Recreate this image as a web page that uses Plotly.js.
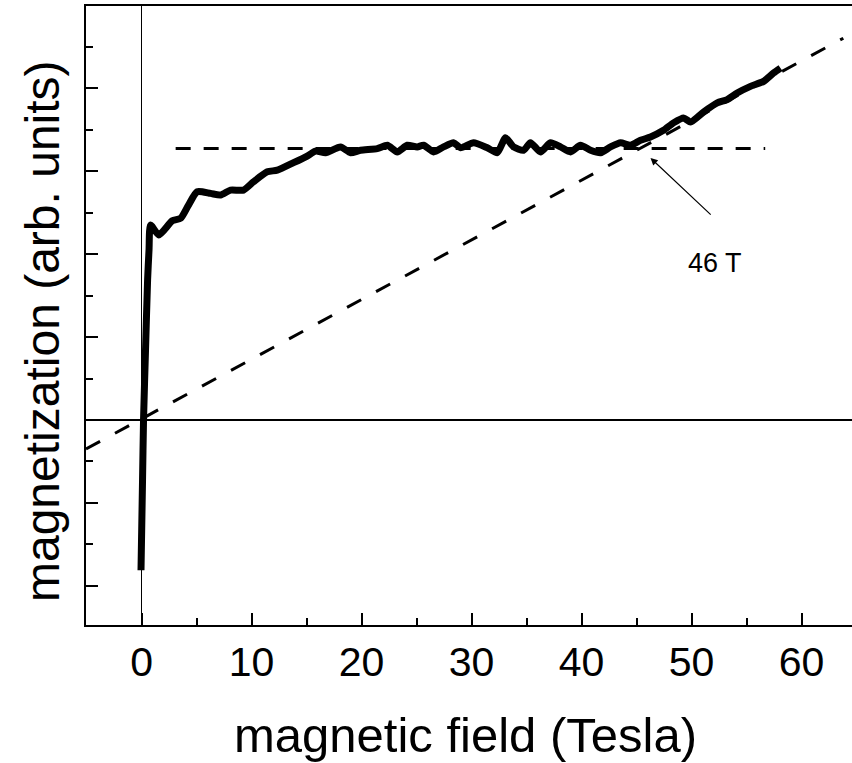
<!DOCTYPE html>
<html>
<head>
<meta charset="utf-8">
<script src="https://cdn.plot.ly/plotly-3.0.1.min.js"></script>
<style>html,body{margin:0;padding:0;background:#fff;}#chart{width:852px;height:763px;}</style>
</head>
<body>
<div id="chart"></div>
<script>
// magnetization curve (field in Tesla, magnetization in arb. units)
var fieldT = [-0.05,0.09,0.18,0.36,0.55,0.68,0.82,1.57,2.79,3.55,4.27,5.06,6.27,7.18,8.09,9.27,10.18,11.43,12.34,13.82,15.06,15.82,16.73,18.09,19.0,19.91,21.43,22.34,23.25,24.15,25.06,25.64,26.55,27.45,28.36,29.0,30.18,31.43,32.34,33.09,33.82,34.73,35.36,36.27,37.18,38.09,39.0,39.91,40.82,41.73,42.64,43.55,44.45,45.36,46.27,47.45,48.36,49.27,49.91,51.09,52.34,53.25,54.15,55.36,56.55,57.45,58.09];
var magn = [-1.81,-0.72,0.0,0.84,1.69,2.05,2.35,2.23,2.40,2.43,2.59,2.75,2.73,2.71,2.77,2.77,2.87,2.99,3.01,3.10,3.18,3.24,3.22,3.29,3.22,3.25,3.27,3.31,3.23,3.31,3.29,3.31,3.23,3.29,3.34,3.28,3.34,3.28,3.22,3.40,3.29,3.25,3.34,3.23,3.34,3.29,3.23,3.31,3.25,3.22,3.29,3.34,3.31,3.37,3.41,3.49,3.58,3.64,3.59,3.71,3.82,3.86,3.94,4.02,4.08,4.18,4.24];
// plateau guide line
var plateauX = [3.1, 56.7];
var plateauY = [3.27, 3.27];
// linear guide line
var slopeX = [-5.05, 63.8];
var slopeY = [-0.35, 4.60];
// annotation
var crossingLabel = "46 T";
var crossingField = 46.27, crossingMagn = 3.157;
var labelField = 51.88, labelMagn = 2.458;
var xTickVals = [0,10,20,30,40,50,60];
var xTickText = ["0","10","20","30","40","50","60"];
var xTitle = "magnetic field (Tesla)";
var yTitle = "magnetization (arb. units)";

var font = "Liberation Sans, Arial, sans-serif";

var traces = [
  {x: slopeX, y: slopeY, mode: 'lines', line: {color: '#000', width: 3, dash: '16px,17px'}, hoverinfo: 'skip'},
  {x: plateauX, y: plateauY, mode: 'lines', line: {color: '#000', width: 3, dash: '15px,13px'}, hoverinfo: 'skip'},
  {x: fieldT, y: magn, mode: 'lines', line: {color: '#000', width: 7, shape: 'spline', smoothing: 0.6}, hoverinfo: 'skip'}
];

var layout = {
  width: 852, height: 763,
  margin: {l: 86, r: 0, t: 6, b: 138},
  paper_bgcolor: '#fff', plot_bgcolor: '#fff',
  showlegend: false,
  font: {family: font, color: '#000'},
  xaxis: {
    range: [-5.05, 64.59],
    showgrid: false,
    zeroline: true, zerolinecolor: '#000', zerolinewidth: 1.5,
    showline: true, linecolor: '#000', linewidth: 2, mirror: true,
    ticks: 'inside', ticklen: 12, tickwidth: 2, tickcolor: '#000',
    tickvals: xTickVals, ticktext: xTickText,
    tickfont: {family: font, size: 41, color: '#000'},
    minor: {ticks: 'inside', ticklen: 7, tickwidth: 2, tickcolor: '#000', dtick: 5, showgrid: false}
  },
  yaxis: {
    range: [-2.47, 4.988],
    showgrid: false,
    zeroline: true, zerolinecolor: '#000', zerolinewidth: 1.5,
    showline: true, linecolor: '#000', linewidth: 2,
    ticks: 'inside', ticklen: 12, tickwidth: 2, tickcolor: '#000',
    dtick: 1, tick0: 0,
    showticklabels: false,
    minor: {ticks: 'inside', ticklen: 7, tickwidth: 2, tickcolor: '#000', dtick: 0.5, showgrid: false}
  },
  annotations: [
    {x: crossingField, y: crossingMagn, ax: labelField, ay: labelMagn, axref: 'x', ayref: 'y',
     xref: 'x', yref: 'y', text: '', showarrow: true, arrowhead: 2, arrowsize: 1.2, arrowwidth: 1.2, arrowcolor: '#000'},
    {x: labelField, y: labelMagn, xref: 'x', yref: 'y', text: crossingLabel, showarrow: false,
     yshift: -47, xshift: 3, font: {family: font, size: 27, color: '#000'}},
    {x: 0.496, y: -0.1777, xref: 'paper', yref: 'paper', xanchor: 'center', yanchor: 'middle',
     text: xTitle, showarrow: false, font: {family: font, size: 49, color: '#000'}},
    {x: -0.0561, y: 0.475, xref: 'paper', yref: 'paper', xanchor: 'center', yanchor: 'middle',
     textangle: -90, text: yTitle, showarrow: false, font: {family: font, size: 48, color: '#000'}}
  ]
};

Plotly.newPlot('chart', traces, layout, {staticPlot: true, displayModeBar: false});
</script>
</body>
</html>
